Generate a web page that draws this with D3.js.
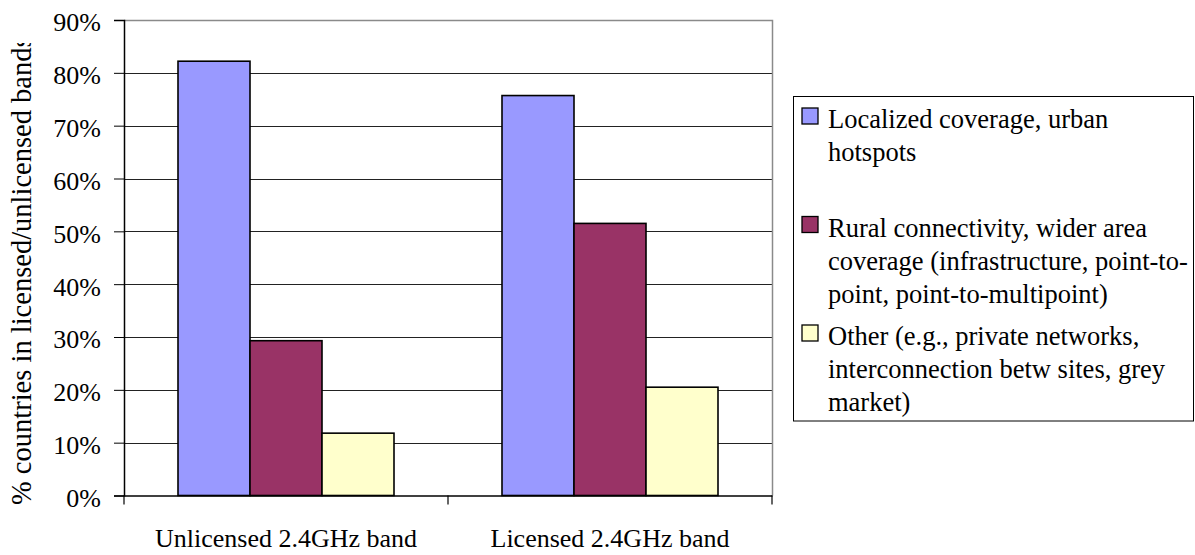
<!DOCTYPE html>
<html>
<head>
<meta charset="utf-8">
<script src="https://cdn.jsdelivr.net/npm/d3@7"></script>
<style>
  html, body { margin: 0; padding: 0; background: #fff; }
  svg { display: block; }
  svg text { font-family: "Liberation Serif", "Times New Roman", serif; }
</style>
</head>
<body>
<svg id="chart" width="1195" height="555"></svg>
<script>
// Share of countries by use of the 2.4GHz band
const categories = ["Unlicensed 2.4GHz band", "Licensed 2.4GHz band"];
const seriesNames = [
  "Localized coverage, urban hotspots",
  "Rural connectivity, wider area coverage (infrastructure, point-to-point, point-to-multipoint)",
  "Other (e.g., private networks, interconnection betw sites, grey market)"
];
// legend text as wrapped lines
const legendLines = [
  ["Localized coverage, urban", "hotspots"],
  ["Rural connectivity, wider area", "coverage (infrastructure, point-to-", "point, point-to-multipoint)"],
  ["Other (e.g., private networks,", "interconnection betw sites, grey", "market)"]
];
const localized = [82.2, 75.7];
const rural = [29.3, 51.5];
const other = [11.8, 20.5];
const seriesValues = [localized, rural, other];
const seriesColors = ["#9999FF", "#993366", "#FFFFCC"];
const yTicks = [0, 10, 20, 30, 40, 50, 60, 70, 80, 90];
const yTitle = "% countries in licensed/unlicensed bands";

const FONT = "'Liberation Serif', 'Times New Roman', serif";
const svg = d3.select("#chart");
const plot = { left: 124, right: 772, top: 20, bottom: 495.5 };
const fontSize = 26;

const y = d3.scaleLinear().domain([0, 90]).range([plot.bottom, plot.top]);
const x0 = d3.scaleBand().domain(categories).range([plot.left, plot.right]).padding(0);
const x1 = d3.scaleBand().domain(d3.range(seriesNames.length))
  .range([0, x0.bandwidth()]).paddingInner(0).paddingOuter(0.75);

// horizontal gridlines
svg.append("g").selectAll("line")
  .data(yTicks.filter(t => t > 0 && t < 90))
  .join("line")
  .attr("x1", plot.left).attr("x2", plot.right)
  .attr("y1", d => Math.round(y(d)) + 0.5).attr("y2", d => Math.round(y(d)) + 0.5)
  .attr("stroke", "#222").attr("stroke-width", 1);

// plot area border (top and right)
svg.append("path")
  .attr("d", `M${plot.left},${plot.top + 0.5}H${plot.right + 0.5}V${plot.bottom}`)
  .attr("fill", "none").attr("stroke", "#8a8a8a").attr("stroke-width", 1.5);

// bars
const groups = svg.append("g").selectAll("g")
  .data(categories)
  .join("g")
  .attr("transform", c => `translate(${x0(c)},0)`);

groups.selectAll("rect")
  .data((c, ci) => seriesValues.map((vals, si) => ({ si, v: vals[ci] })))
  .join("rect")
  .attr("x", d => x1(d.si))
  .attr("width", x1.bandwidth())
  .attr("y", d => y(d.v))
  .attr("height", d => plot.bottom - y(d.v))
  .attr("fill", d => seriesColors[d.si])
  .attr("stroke", "#000").attr("stroke-width", 1.6);

// y axis
const yAxis = d3.axisLeft(y).tickValues(yTicks).tickFormat(d => d + "%")
  .tickSize(10).tickPadding(13);
const gy = svg.append("g").attr("transform", `translate(${plot.left},0)`).call(yAxis)
  .attr("font-family", FONT).attr("font-size", fontSize);
gy.select(".domain").attr("stroke", "#000").attr("stroke-width", 1.5);
gy.selectAll(".tick line").attr("stroke", "#000");
gy.selectAll(".tick text").attr("fill", "#000").attr("dy", "0.42em");

// x axis: ticks at category boundaries
const xAxis = d3.axisBottom(x0).tickSize(0).tickPadding(33);
const gx = svg.append("g").attr("transform", `translate(0,${plot.bottom})`).call(xAxis)
  .attr("font-family", FONT).attr("font-size", fontSize);
gx.select(".domain").attr("stroke", "#000").attr("stroke-width", 1.5);
gx.selectAll(".tick text").attr("fill", "#000").attr("dy", "0.71em");
const boundaries = [plot.left, ...categories.map(c => x0(c) + x0.bandwidth())];
gx.append("g").selectAll("line").data(boundaries).join("line")
  .attr("x1", d => d).attr("x2", d => d).attr("y1", 0).attr("y2", 9)
  .attr("stroke", "#000").attr("stroke-width", 1.2);

// y axis title, clipped at the top
svg.append("clipPath").attr("id", "ytitle-clip")
  .append("rect").attr("x", 0).attr("y", 43).attr("width", 60).attr("height", 512);
svg.append("g").attr("clip-path", "url(#ytitle-clip)")
  .append("text")
  .attr("transform", "translate(31,505) rotate(-90)")
  .attr("text-anchor", "start")
  .attr("font-family", FONT)
  .attr("font-size", 28.5).attr("fill", "#000")
  .text(yTitle);

// legend
const legend = svg.append("g");
legend.append("rect")
  .attr("x", 793.5).attr("y", 96.5).attr("width", 400).attr("height", 324.5)
  .attr("fill", "#fff").attr("stroke", "#000").attr("stroke-width", 1);
const entries = legend.selectAll("g.entry")
  .data(seriesNames)
  .join("g").attr("class", "entry")
  .attr("transform", (d, i) => `translate(0,${128 + i * 108.5})`);
entries.append("rect")
  .attr("x", 802).attr("y", -20).attr("width", 16).attr("height", 16)
  .attr("fill", (d, i) => seriesColors[i]).attr("stroke", "#000").attr("stroke-width", 1.3);
entries.append("text")
  .attr("font-family", FONT)
  .attr("font-size", 26.5).attr("fill", "#000")
  .selectAll("tspan")
  .data((d, i) => legendLines[i])
  .join("tspan")
  .attr("x", 828).attr("y", (d, j) => j * 33)
  .text(d => d);
</script>
</body>
</html>
